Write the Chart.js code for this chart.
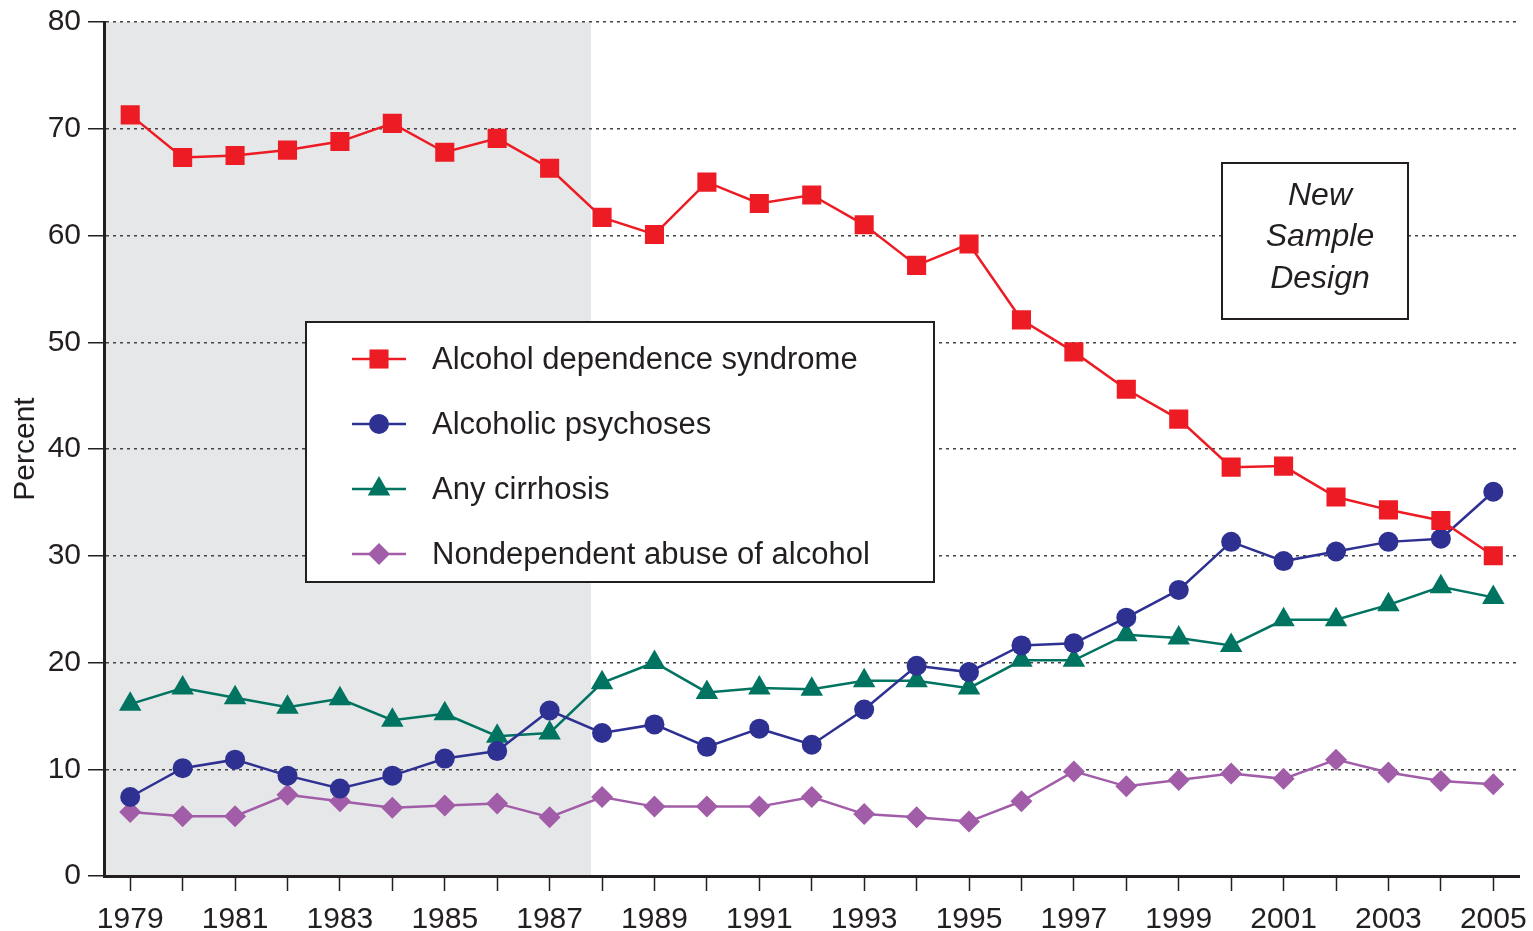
<!DOCTYPE html>
<html>
<head>
<meta charset="utf-8">
<script src="https://cdn.jsdelivr.net/npm/chart.js@4.4.0/dist/chart.umd.min.js"></script>
<style>
    html, body { margin: 0; padding: 0; background: #fff; }
</style>
</head>
<body>
<canvas id="chart" width="1533" height="931"></canvas>
<script>
// years on the x axis
const years = [
    "1979", "1980", "1981", "1982", "1983", "1984", "1985", "1986", "1987",
    "1988", "1989", "1990", "1991", "1992", "1993", "1994", "1995", "1996",
    "1997", "1998", "1999", "2000", "2001", "2002", "2003", "2004", "2005",
];

// percent values
const dependence = [
    71.3, 67.3, 67.5, 68.0, 68.8, 70.5, 67.8, 69.1, 66.3,
    61.7, 60.1, 65.0, 63.0, 63.8, 61.0, 57.2, 59.2, 52.1,
    49.1, 45.6, 42.8, 38.3, 38.4, 35.5, 34.3, 33.3, 30.0,
];
const psychoses = [
    7.4, 10.1, 10.9, 9.4, 8.2, 9.4, 11.0, 11.7, 15.5,
    13.4, 14.2, 12.1, 13.8, 12.3, 15.6, 19.7, 19.1, 21.6,
    21.8, 24.2, 26.8, 31.3, 29.5, 30.4, 31.3, 31.6, 36.0,
];
const cirrhosis = [
    16.1, 17.6, 16.7, 15.8, 16.6, 14.6, 15.2, 13.1, 13.4,
    18.1, 20.0, 17.2, 17.6, 17.5, 18.3, 18.3, 17.6, 20.2,
    20.2, 22.6, 22.3, 21.6, 24.0, 24.0, 25.4, 27.1, 26.1,
];
const nondependent = [
    6.0, 5.6, 5.6, 7.6, 7.0, 6.4, 6.6, 6.8, 5.5,
    7.4, 6.5, 6.5, 6.5, 7.4, 5.8, 5.5, 5.1, 7.0,
    9.8, 8.4, 9.0, 9.6, 9.1, 10.9, 9.7, 8.9, 8.6,
];

const yTicks = [0, 10, 20, 30, 40, 50, 60, 70, 80];
const seriesNames = [
    "Alcohol dependence syndrome",
    "Alcoholic psychoses",
    "Any cirrhosis",
    "Nondependent abuse of alcohol",
];

// old sample design ends a bit before 1988 (category index)
const oldDesignEnd = 8.79;

const ink = "#231f20";
const font = "'Liberation Sans', Arial, Helvetica, sans-serif";

function marker(ctx, style, x, y, r) {
    ctx.beginPath();
    if (style === "rect") {
        const s = r * Math.SQRT1_2;
        ctx.rect(x - s, y - s, 2 * s, 2 * s);
    } else if (style === "circle") {
        ctx.arc(x, y, r, 0, Math.PI * 2);
    } else if (style === "triangle") {
        ctx.moveTo(x, y - r);
        ctx.lineTo(x + r * 0.866, y + r * 0.5);
        ctx.lineTo(x - r * 0.866, y + r * 0.5);
        ctx.closePath();
    } else {
        ctx.moveTo(x, y - r);
        ctx.lineTo(x + r, y);
        ctx.lineTo(x, y + r);
        ctx.lineTo(x - r, y);
        ctx.closePath();
    }
    ctx.fill();
}

// gray band behind the old design years, legend and note box
const extras = {
    id: "extras",
    beforeDraw(chart) {
        const { ctx, chartArea, scales } = chart;
        const xEnd = scales.x.getPixelForValue(oldDesignEnd);
        ctx.save();
        ctx.fillStyle = "#e6e7e8";
        ctx.fillRect(chartArea.left, chartArea.top, xEnd - chartArea.left, chartArea.bottom - chartArea.top);
        ctx.restore();
    },
    afterDraw(chart) {
        const ctx = chart.ctx;
        ctx.save();

        // legend
        ctx.fillStyle = "#fff";
        ctx.fillRect(306, 322, 628, 260);
        ctx.strokeStyle = ink;
        ctx.lineWidth = 2;
        ctx.strokeRect(306, 322, 628, 260);
        chart.data.datasets.forEach((ds, i) => {
            const y = 359 + i * 65;
            ctx.strokeStyle = ds.borderColor;
            ctx.lineWidth = ds.borderWidth;
            ctx.beginPath();
            ctx.moveTo(352, y);
            ctx.lineTo(406, y);
            ctx.stroke();
            ctx.fillStyle = ds.backgroundColor;
            marker(ctx, ds.pointStyle, 379, y, ds.pointRadius);
            ctx.fillStyle = ink;
            ctx.font = "31px " + font;
            ctx.textAlign = "left";
            ctx.textBaseline = "middle";
            ctx.fillText(ds.label, 432, y + 1);
        });

        // new sample design note
        ctx.fillStyle = "#fff";
        ctx.fillRect(1222, 163, 186, 156);
        ctx.strokeStyle = ink;
        ctx.lineWidth = 2;
        ctx.strokeRect(1222, 163, 186, 156);
        ctx.fillStyle = ink;
        ctx.font = "italic 32px " + font;
        ctx.textAlign = "center";
        ctx.textBaseline = "middle";
        ctx.fillText("New", 1320, 196);
        ctx.fillText("Sample", 1320, 237);
        ctx.fillText("Design", 1320, 279);
        ctx.restore();
    },
};

function series(label, data, color, style, radius) {
    return {
        label: label,
        data: data,
        borderColor: color,
        backgroundColor: color,
        borderWidth: 2.5,
        pointStyle: style,
        pointRadius: radius,
        pointHoverRadius: radius,
        pointBorderWidth: 0,
        pointBackgroundColor: color,
        tension: 0,
    };
}

new Chart(document.getElementById("chart"), {
    type: "line",
    data: {
        labels: years,
        datasets: [
            series(seriesNames[0], dependence, "#ed1c24", "rect", 13.5),
            series(seriesNames[1], psychoses, "#2e3192", "circle", 10),
            series(seriesNames[2], cirrhosis, "#007461", "triangle", 13),
            series(seriesNames[3], nondependent, "#a15da8", "rectRot", 11),
        ],
    },
    options: {
        responsive: false,
        animation: false,
        devicePixelRatio: 1,
        layout: {
            padding: { top: 22, right: 9, left: 0, bottom: 0 },
        },
        plugins: {
            legend: { display: false },
            tooltip: { enabled: false },
        },
        scales: {
            x: {
                type: "category",
                offset: true,
                grid: {
                    drawOnChartArea: false,
                    drawTicks: true,
                    tickLength: 15,
                    tickColor: ink,
                    tickWidth: 1.5,
                },
                border: { display: true, color: ink, width: 3 },
                ticks: {
                    autoSkip: false,
                    maxRotation: 0,
                    padding: 11,
                    color: ink,
                    font: { family: font, size: 30 },
                    callback: (v, i) => (i % 2 === 0 ? years[i] : ""),
                },
                afterFit: (scale) => {
                    scale.height = 55;
                    scale.paddingLeft = 0;
                    scale.paddingRight = 0;
                },
            },
            y: {
                min: yTicks[0],
                max: yTicks[yTicks.length - 1],
                afterBuildTicks: (scale) => {
                    scale.ticks = yTicks.map((v) => ({ value: v }));
                },
                grid: {
                    color: "#444",
                    lineWidth: 1.5,
                    drawTicks: true,
                    tickLength: 16,
                    tickColor: ink,
                    tickWidth: 1.5,
                },
                border: { display: true, color: ink, width: 3, dash: [3, 4] },
                ticks: {
                    padding: 7,
                    color: ink,
                    font: { family: font, size: 30 },
                },
                title: {
                    display: true,
                    text: "Percent",
                    color: ink,
                    font: { family: font, size: 30 },
                    padding: { top: 8, bottom: 0 },
                },
                afterFit: (scale) => {
                    scale.width = 104;
                    scale.paddingTop = 0;
                    scale.paddingBottom = 0;
                },
            },
        },
    },
    plugins: [extras],
});
</script>
</body>
</html>
